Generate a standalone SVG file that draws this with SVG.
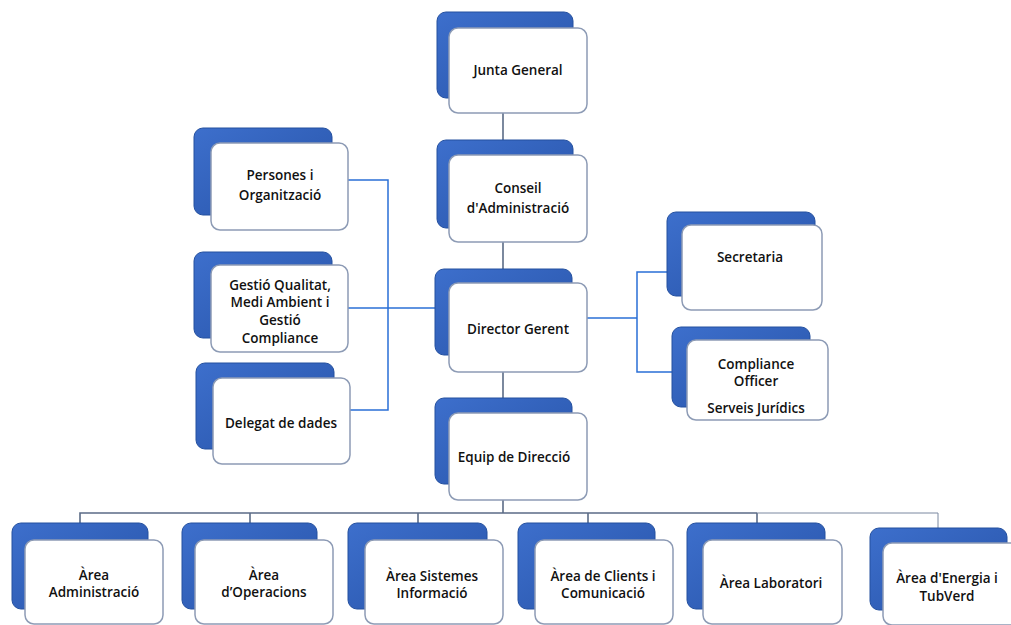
<svg xmlns="http://www.w3.org/2000/svg" width="1011" height="625" viewBox="0 0 1011 625">
<defs>
<linearGradient id="bg" x1="0" y1="0" x2="1" y2="1">
<stop offset="0" stop-color="#3d6fcc"/>
<stop offset="1" stop-color="#2753a8"/>
</linearGradient>
<style>
.back{fill:url(#bg);stroke:#24509f;stroke-width:1}
.front{fill:#ffffff;stroke:#8d9bb5;stroke-width:1.5}
.t{font-family:"Open Sans","Liberation Sans",sans-serif;font-size:13.5px;font-weight:600;fill:#111;text-anchor:middle}
.c1{stroke:#5b6b86;stroke-width:1.6;fill:none}
.c2{stroke:#2a6fd6;stroke-width:1.5;fill:none}
.c3{stroke:#7a88a0;stroke-width:1;fill:none}
</style>
</defs>
<rect width="1011" height="625" fill="#ffffff"/>
<g id="connectors">
<line class="c1" x1="503" y1="113" x2="503" y2="140"/>
<line class="c1" x1="503" y1="242" x2="503" y2="269"/>
<line class="c1" x1="503" y1="372" x2="503" y2="398"/>
<line class="c1" x1="503" y1="500" x2="503" y2="513"/>
<polyline class="c1" points="80,523 80,513 757,513"/>
<line class="c1" x1="250" y1="513" x2="250" y2="523"/>
<line class="c1" x1="418" y1="513" x2="418" y2="523"/>
<line class="c1" x1="588" y1="513" x2="588" y2="523"/>
<line class="c1" x1="757" y1="513" x2="757" y2="523"/>
<polyline class="c3" points="757,513 938,513 938,528"/>
<polyline class="c2" points="348,180 388,180 388,410 350,410"/>
<line class="c2" x1="348" y1="308" x2="435" y2="308"/>
<line class="c2" x1="587" y1="318" x2="637" y2="318"/>
<polyline class="c2" points="667,272 637,272 637,372 672,372"/>
</g>
<g id="junta">
<rect class="back" x="437" y="12" width="136" height="86" rx="9"/>
<rect class="front" x="449" y="28" width="138" height="85" rx="9"/>
<text class="t" x="518" y="75">Junta General</text>
</g>
<g id="conseil">
<rect class="back" x="437" y="140" width="136" height="88" rx="9"/>
<rect class="front" x="449" y="155" width="138" height="87" rx="9"/>
<text class="t" x="518" y="193">Conseil</text>
<text class="t" x="518" y="213">d'Administració</text>
</g>
<g id="director">
<rect class="back" x="435" y="269" width="137" height="86" rx="9"/>
<rect class="front" x="449" y="283" width="138" height="89" rx="9"/>
<text class="t" x="518" y="334">Director Gerent</text>
</g>
<g id="equip">
<rect class="back" x="435" y="398" width="137" height="86" rx="9"/>
<rect class="front" x="449" y="413" width="138" height="87" rx="9"/>
<text class="t" x="514" y="462">Equip de Direcció</text>
</g>
<g id="persones">
<rect class="back" x="194" y="128" width="138" height="87" rx="9"/>
<rect class="front" x="211" y="143" width="137" height="87" rx="9"/>
<text class="t" x="280" y="180">Persones i</text>
<text class="t" x="280" y="200">Organització</text>
</g>
<g id="gestio">
<rect class="back" x="194" y="252" width="138" height="86" rx="9"/>
<rect class="front" x="211" y="265" width="137" height="87" rx="9"/>
<text class="t" x="280" y="290">Gestió Qualitat,</text>
<text class="t" x="280" y="307">Medi Ambient i</text>
<text class="t" x="280" y="325">Gestió</text>
<text class="t" x="280" y="343">Compliance</text>
</g>
<g id="delegat">
<rect class="back" x="196" y="363" width="138" height="86" rx="9"/>
<rect class="front" x="213" y="378" width="137" height="86" rx="9"/>
<text class="t" x="281" y="428">Delegat de dades</text>
</g>
<g id="secretaria">
<rect class="back" x="667" y="212" width="148" height="84" rx="9"/>
<rect class="front" x="682" y="225" width="140" height="85" rx="9"/>
<text class="t" x="750" y="262">Secretaria</text>
</g>
<g id="compliance">
<rect class="back" x="672" y="327" width="138" height="80" rx="9"/>
<rect class="front" x="687" y="340" width="141" height="80" rx="9"/>
<text class="t" x="756" y="369">Compliance</text>
<text class="t" x="756" y="386">Officer</text>
<text class="t" x="756" y="413">Serveis Jurídics</text>
</g>
<g id="administracio">
<rect class="back" x="12" y="523" width="136" height="86" rx="9"/>
<rect class="front" x="25" y="540" width="138" height="84" rx="9"/>
<text class="t" x="94" y="580">Àrea</text>
<text class="t" x="94" y="597">Administració</text>
</g>
<g id="operacions">
<rect class="back" x="182" y="523" width="135" height="86" rx="9"/>
<rect class="front" x="195" y="540" width="138" height="84" rx="9"/>
<text class="t" x="264" y="580">Àrea</text>
<text class="t" x="264" y="597">d’Operacions</text>
</g>
<g id="sistemes">
<rect class="back" x="348" y="523" width="139" height="86" rx="9"/>
<rect class="front" x="365" y="540" width="138" height="84" rx="9"/>
<text class="t" x="432" y="581">Àrea Sistemes</text>
<text class="t" x="432" y="598">Informació</text>
</g>
<g id="clients">
<rect class="back" x="518" y="523" width="137" height="86" rx="9"/>
<rect class="front" x="535" y="540" width="138" height="84" rx="9"/>
<text class="t" x="603" y="581">Àrea de Clients i</text>
<text class="t" x="603" y="598">Comunicació</text>
</g>
<g id="laboratori">
<rect class="back" x="687" y="523" width="138" height="86" rx="9"/>
<rect class="front" x="703" y="540" width="139" height="84" rx="9"/>
<text class="t" x="771" y="588">Àrea Laboratori</text>
</g>
<g id="energia">
<rect class="back" x="870" y="528" width="137" height="82" rx="9"/>
<rect class="front" x="883" y="543" width="140" height="82" rx="9"/>
<text class="t" x="947" y="583">Àrea d'Energia i</text>
<text class="t" x="947" y="601">TubVerd</text>
</g>
</svg>
